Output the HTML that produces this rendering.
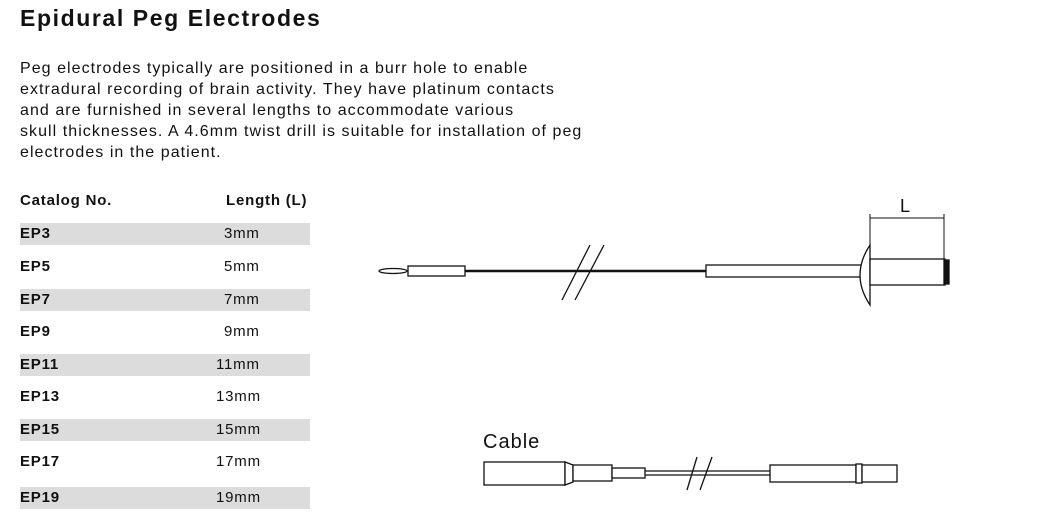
<!DOCTYPE html>
<html><head><style>
body{margin:0;width:1057px;height:530px;background:#fff;font-family:"Liberation Sans",sans-serif;color:#111;position:relative;overflow:hidden}
h1{position:absolute;left:20px;top:5px;margin:0;font-size:23px;font-weight:bold;letter-spacing:1.6px}
p{position:absolute;left:20px;top:58px;margin:0;font-size:16px;line-height:21px;width:620px;letter-spacing:1.05px}
.row{position:absolute;left:20px;width:290px;height:22px;font-size:15px;line-height:22px;letter-spacing:0.8px}
.row b{position:absolute;left:0}
.row span{position:absolute;left:204px}
.sh{background:#dcdcdc}
</style></head><body>
<h1>Epidural Peg Electrodes</h1>
<p>Peg electrodes typically are positioned in a burr hole to enable<br>extradural recording of brain activity. They have platinum contacts<br>and are furnished in several lengths to accommodate various<br>skull thicknesses. A 4.6mm twist drill is suitable for installation of peg<br>electrodes in the patient.</p>
<div class="row" style="top:190px"><b>Catalog No.</b><span style="left:206px;font-weight:bold">Length (L)</span></div>
<div class="row sh" style="top:223px"><b>EP3</b><span>3mm</span></div>
<div class="row" style="top:256px"><b>EP5</b><span>5mm</span></div>
<div class="row sh" style="top:289px"><b>EP7</b><span>7mm</span></div>
<div class="row" style="top:321px"><b>EP9</b><span>9mm</span></div>
<div class="row sh" style="top:354px"><b>EP11</b><span style="left:196px">11mm</span></div>
<div class="row" style="top:386px"><b>EP13</b><span style="left:196px">13mm</span></div>
<div class="row sh" style="top:419px"><b>EP15</b><span style="left:196px">15mm</span></div>
<div class="row" style="top:451px"><b>EP17</b><span style="left:196px">17mm</span></div>
<div class="row sh" style="top:487px"><b>EP19</b><span style="left:196px">19mm</span></div>
<svg width="1057" height="530" style="position:absolute;left:0;top:0" fill="none" stroke="#111" stroke-width="1.3">
<ellipse cx="393" cy="271" rx="14" ry="2.5"/>
<rect x="408" y="266" width="57" height="10" fill="#fff"/>
<line x1="465" y1="271" x2="706" y2="271" stroke-width="2.5"/>
<line x1="562" y1="300" x2="590" y2="245"/>
<line x1="575" y1="300" x2="604" y2="245"/>
<rect x="706" y="265" width="157" height="12" fill="#fff"/>
<path d="M870 245 Q850 275 870 305 Z" fill="#fff"/>
<rect x="870" y="259" width="75" height="26" fill="#fff"/>
<rect x="944" y="260" width="5" height="24" fill="#111"/>
<line x1="870" y1="214" x2="870" y2="259" stroke-width="1"/>
<line x1="944" y1="214" x2="944" y2="259" stroke-width="1"/>
<line x1="870" y1="218" x2="944" y2="218" stroke-width="1"/>
<text x="900" y="212" font-size="18" fill="#111" stroke="none" font-family="Liberation Sans">L</text>
<text x="483" y="448" font-size="20" fill="#111" stroke="none" font-family="Liberation Sans" letter-spacing="1">Cable</text>
<rect x="484" y="462" width="81" height="23" fill="#fff"/>
<path d="M565 462 L573 465 L573 482 L565 485 Z" fill="#fff"/>
<rect x="573" y="465" width="39" height="16" fill="#fff"/>
<rect x="612" y="468" width="33" height="10" fill="#fff"/>
<line x1="645" y1="471" x2="770" y2="471"/>
<line x1="645" y1="475" x2="770" y2="475"/>
<line x1="687" y1="490" x2="697" y2="457"/>
<line x1="700" y1="490" x2="712" y2="457"/>
<rect x="770" y="465" width="86" height="17" fill="#fff"/>
<rect x="856" y="464" width="6" height="19" fill="#fff"/>
<rect x="862" y="465" width="35" height="17" fill="#fff"/>
</svg>
</body></html>
